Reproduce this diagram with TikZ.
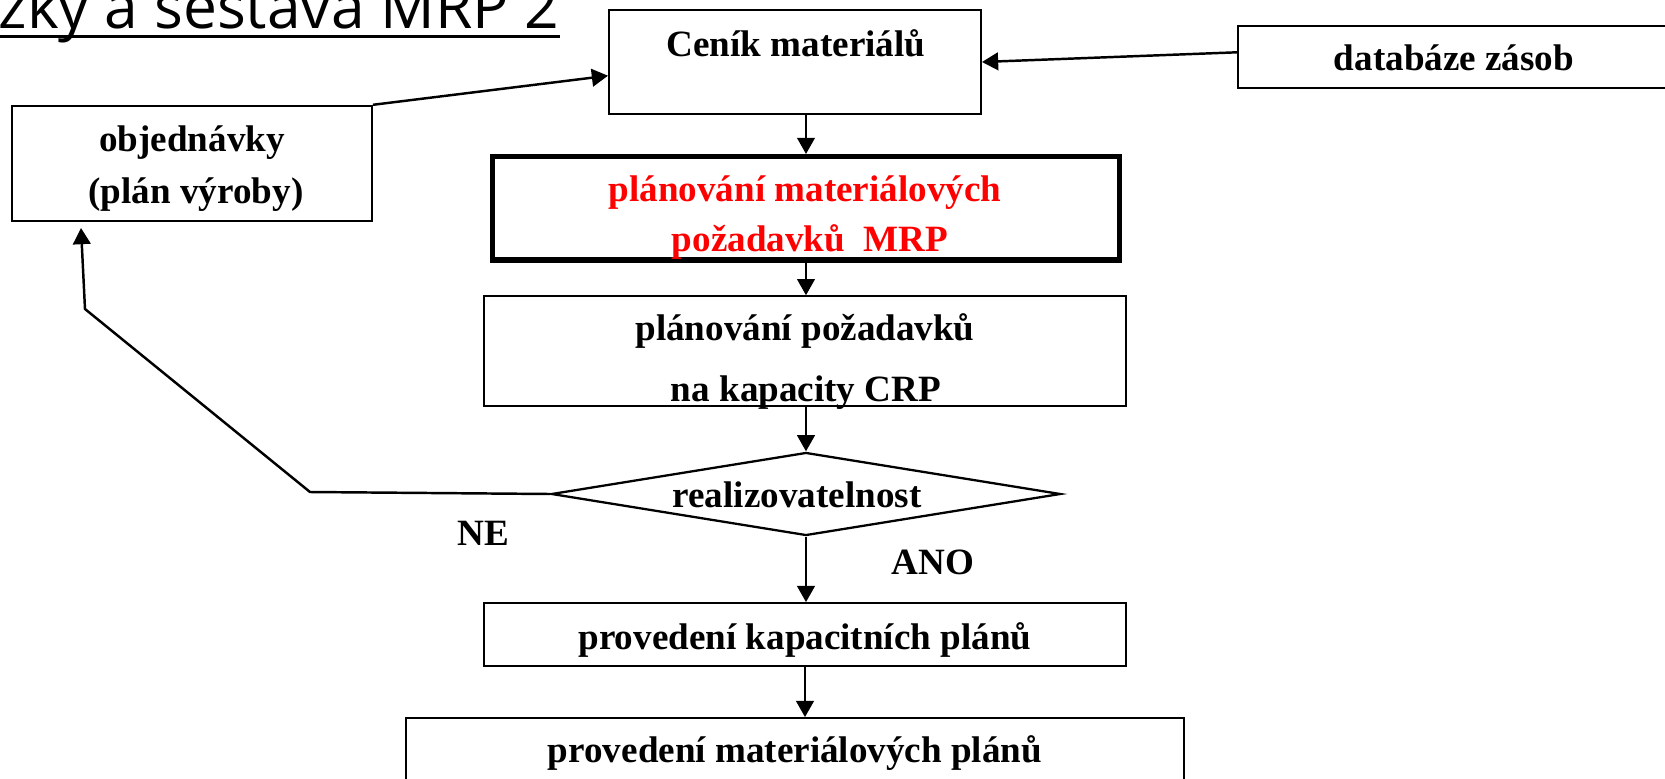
\documentclass[tikz,border=0pt]{standalone}
\usepackage{fontspec}
\setmainfont{Liberation Serif}
\newfontfamily\titlefont{Open Sans}
\usepackage{xcolor}
\usetikzlibrary{arrows.meta,shapes.geometric}
\definecolor{mrpred}{RGB}{255,0,0}
\newcommand{\drawarrow}{\draw[line width=0.7pt,-{Triangle[length=4.6pt,width=5pt]}]}
\newcommand{\boxtext}[4]{\node[anchor=base,inner sep=0pt] (#1) at (#2,#3) {#4};}
\tikzset{flowbox/.style={draw,line width=0.5pt,inner sep=0pt}}

\begin{document}
\begin{tikzpicture}[x=0.01cm,y=-0.01cm,font=\fontsize{10.55pt}{12pt}\selectfont\bfseries]
\useasboundingbox (0,0) rectangle (1665,778);
\node[anchor=base west,inner sep=0pt,font=\titlefont\fontsize{17.2pt}{20pt}\selectfont] (title) at (-2,28) {zky a sestava MRP 2};
\draw[line width=0.85pt] ([yshift=-0.08cm]title.base west) -- ([yshift=-0.08cm]title.base east);
\node[flowbox,minimum width=3.72cm,minimum height=1.04cm] (cenik) at (795,62) {};
\node[flowbox,minimum width=4.42cm,minimum height=0.62cm] (databaze) at (1459,57) {};
\node[flowbox,minimum width=3.60cm,minimum height=1.15cm] (objednavky) at (192,163.2) {};
\node[flowbox,line width=1.56pt,minimum width=6.265cm,minimum height=1.033cm] (mrp) at (806,208.4) {};
\node[flowbox,minimum width=6.42cm,minimum height=1.097cm] (crp) at (805,351) {};
\node[flowbox,diamond,line width=0.65pt,minimum width=5.09cm,minimum height=0.83cm] (realiz) at (806,494) {};
\node[flowbox,minimum width=6.42cm,minimum height=0.63cm] (kapplan) at (805,634.5) {};
\node[flowbox,minimum width=7.77cm,minimum height=0.82cm] (matplan) at (795,759) {};
\boxtext{cenikt}{796}{56}{Ceník materiálů}
\boxtext{databazet}{1454}{70}{databáze zásob}
\boxtext{objt1}{192}{151}{objednávky}
\boxtext{objt2}{196}{203}{(plán výroby)}
\boxtext{mrpt1}{805}{201.7}{\color{mrpred}plánování materiálových}
\boxtext{mrpt2}{810}{251.7}{\color{mrpred}požadavků\ \ MRP}
\boxtext{crpt1}{805}{340}{plánování požadavků}
\boxtext{crpt2}{806}{401.7}{na kapacity CRP}
\boxtext{realizt}{797}{507.3}{realizovatelnost}
\boxtext{ne}{483}{545}{NE}
\boxtext{ano}{933}{574}{ANO}
\boxtext{kapt}{805}{649.3}{provedení kapacitních plánů}
\boxtext{matt}{795}{762.7}{provedení materiálových plánů}
\coordinate (nebend) at (310,492);
\coordinate (necorner) at (85,309);
\coordinate (netip) at (81,228);
\drawarrow (mrp.north |- cenik.south) -- (mrp.north);
\drawarrow (mrp.south) -- (mrp.south |- crp.north);
\drawarrow (realiz.north |- crp.south) -- (realiz.north);
\drawarrow (realiz.south) -- (realiz.south |- kapplan.north);
\drawarrow (kapplan.south) -- (kapplan.south |- matplan.north);
\drawarrow (objednavky.north east) -- ([yshift=-0.137cm]cenik.west);
\drawarrow ([yshift=0.047cm]databaze.west) -- (cenik.east);
\drawarrow (realiz.west) -- (nebend) -- (necorner) -- (netip);
\end{tikzpicture}
\end{document}
